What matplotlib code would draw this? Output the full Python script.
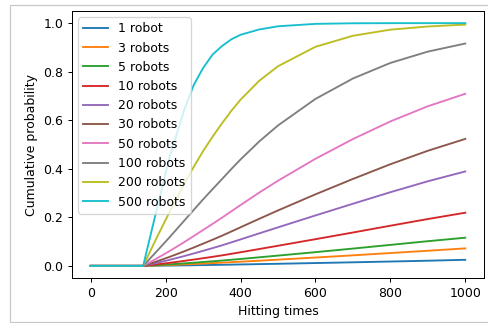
import matplotlib
matplotlib.use('Agg')
import matplotlib.pyplot as plt
from matplotlib.patches import Rectangle

hit_times = [0, 140, 175, 210, 250, 275, 300, 325, 350, 375, 400, 450, 500, 600, 700, 800, 900, 1000]

# Cumulative probability per team size
p_1 = [0, 0, 0.0006, 0.0012, 0.0021, 0.0026, 0.0032, 0.0038, 0.0044, 0.0051, 0.0058, 0.0072, 0.0086, 0.0116, 0.0147, 0.0179, 0.0212, 0.0250]
p_3 = [0, 0, 0.0018, 0.0037, 0.0062, 0.0078, 0.0096, 0.0113, 0.0131, 0.0151, 0.0172, 0.0213, 0.0256, 0.0343, 0.0434, 0.0528, 0.0623, 0.0720]
p_5 = [0, 0, 0.0030, 0.0062, 0.0103, 0.0130, 0.0159, 0.0188, 0.0218, 0.0251, 0.0284, 0.0353, 0.0423, 0.0565, 0.0712, 0.0864, 0.1016, 0.1160]
p_10 = [0, 0, 0.0059, 0.0124, 0.0205, 0.0259, 0.0315, 0.0372, 0.0431, 0.0495, 0.0561, 0.0694, 0.0828, 0.1099, 0.1374, 0.1654, 0.1929, 0.2190]
p_20 = [0, 0, 0.0118, 0.0246, 0.0405, 0.0511, 0.0620, 0.0730, 0.0844, 0.0966, 0.1090, 0.1339, 0.1587, 0.2077, 0.2559, 0.3034, 0.3486, 0.3890]
p_30 = [0, 0, 0.0177, 0.0367, 0.0601, 0.0756, 0.0915, 0.1075, 0.1239, 0.1414, 0.1589, 0.1940, 0.2283, 0.2947, 0.3581, 0.4187, 0.4742, 0.5230]
p_50 = [0, 0, 0.0293, 0.0604, 0.0982, 0.1228, 0.1479, 0.1726, 0.1979, 0.2243, 0.2506, 0.3020, 0.3508, 0.4412, 0.5224, 0.5951, 0.6575, 0.7090]
p_100 = [0, 0, 0.0578, 0.1171, 0.1868, 0.2305, 0.2739, 0.3155, 0.3566, 0.3983, 0.4384, 0.5127, 0.5785, 0.6878, 0.7719, 0.8360, 0.8827, 0.9160]
p_200 = [0, 0, 0.1122, 0.2206, 0.3387, 0.4079, 0.4727, 0.5314, 0.5860, 0.6380, 0.6846, 0.7626, 0.8224, 0.9025, 0.9480, 0.9731, 0.9862, 0.9940]
p_500 = [0, 0, 0.2250, 0.4450, 0.6444, 0.7450, 0.8150, 0.8700, 0.9050, 0.9330, 0.9520, 0.9740, 0.9870, 0.9970, 0.9994, 0.9999, 1.0, 1.0]

labels = ['1 robot', '3 robots', '5 robots', '10 robots', '20 robots',
          '30 robots', '50 robots', '100 robots', '200 robots', '500 robots']
series = [p_1, p_3, p_5, p_10, p_20, p_30, p_50, p_100, p_200, p_500]

fig = plt.figure(figsize=(488 / 90, 323 / 90), dpi=90)
ax = fig.add_axes([72 / 488, 45 / 323, 412 / 488, 267 / 323])

for lab, vals in zip(labels, series):
    ax.plot(hit_times, vals, label=lab)

ax.set_xlabel('Hitting times')
ax.set_ylabel('Cumulative probability')
ax.legend(loc='upper left')

# light frame around the whole picture (notebook output border)
fig.add_artist(Rectangle((10 / 488, 1 / 323), 1.0, 317 / 323,
                         transform=fig.transFigure, fill=False,
                         edgecolor='#c8c8c8', linewidth=1))

fig.savefig('out.png', dpi=90)
